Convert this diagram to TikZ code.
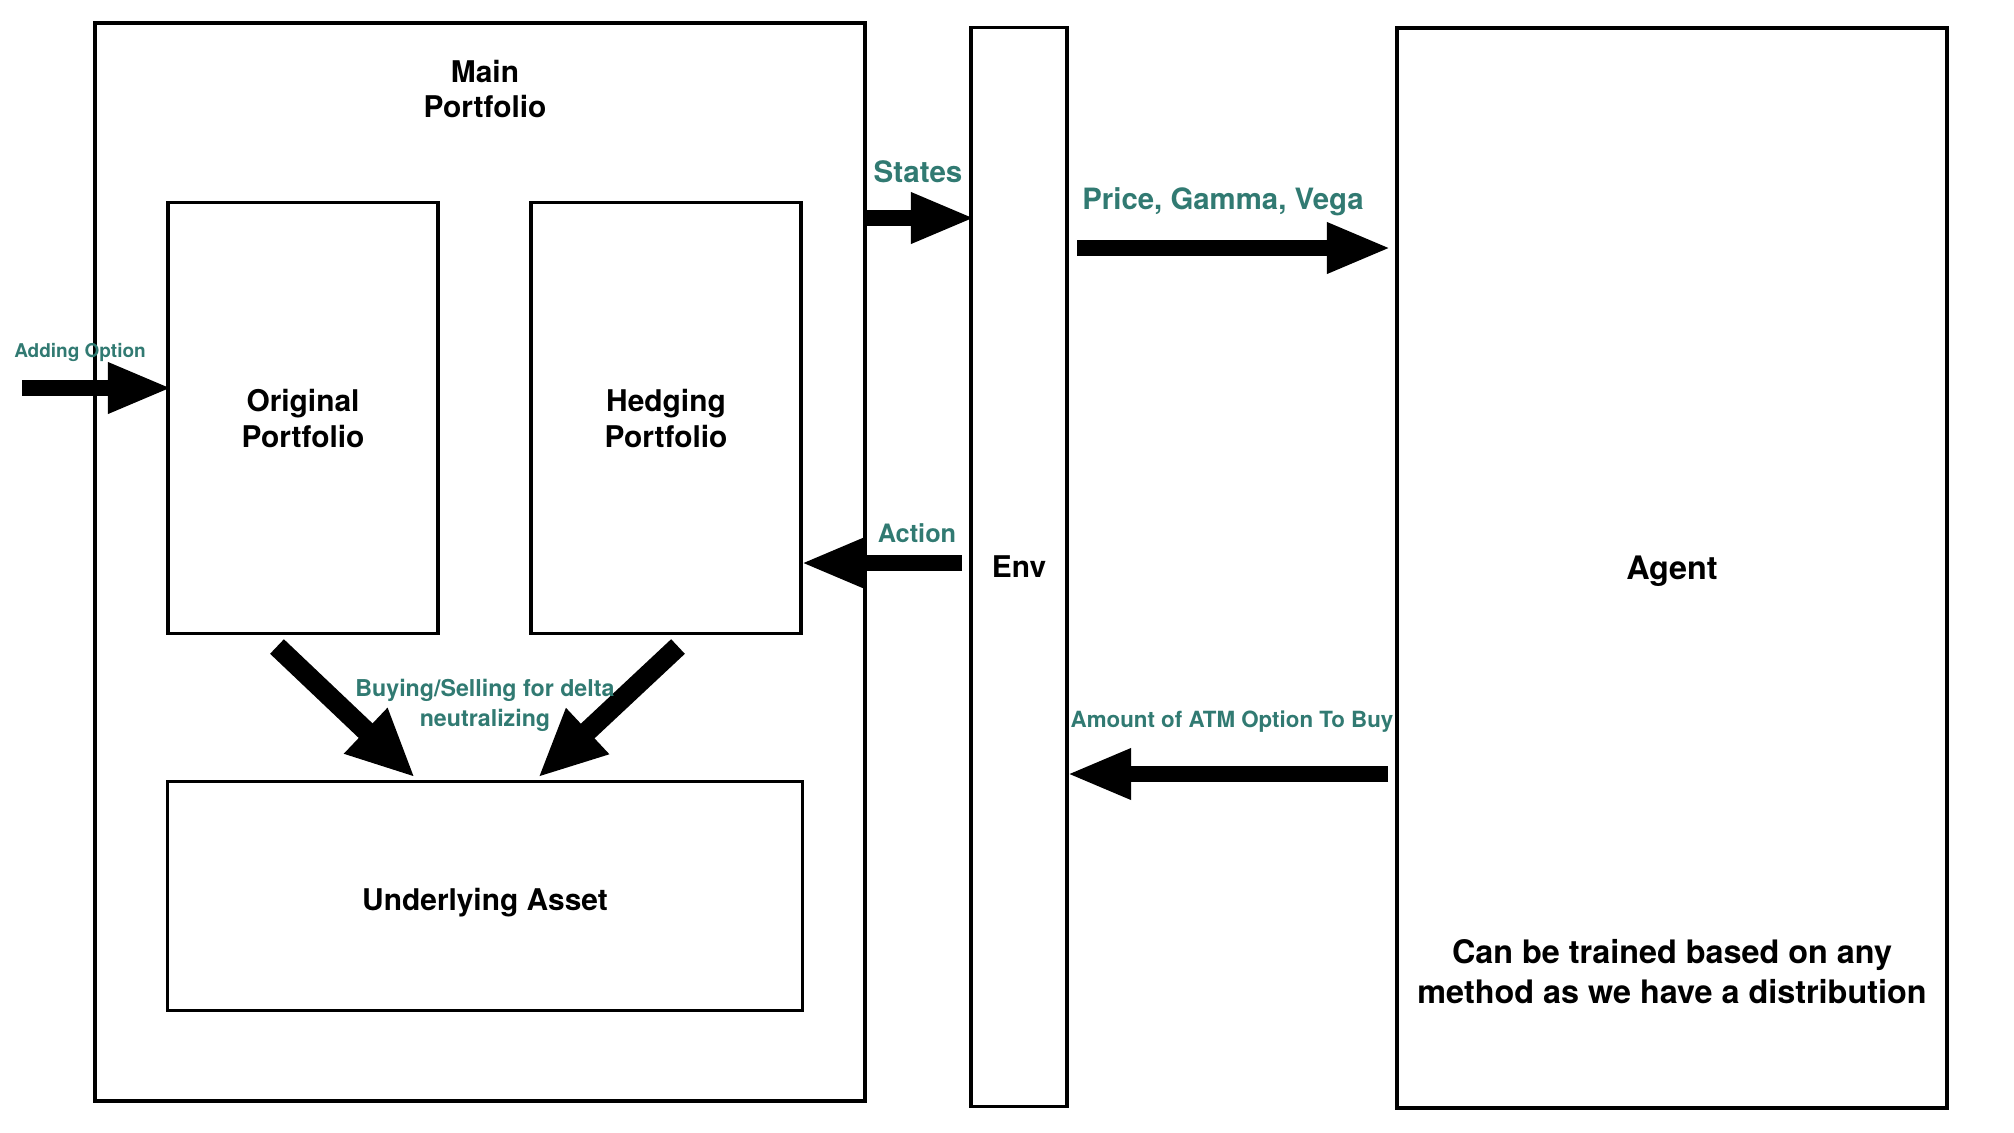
\documentclass[tikz,border=0pt]{standalone}
\usepackage{fontspec}
\setmainfont{TeX Gyre Heros}
\usetikzlibrary{arrows.meta}
\definecolor{labelteal}{RGB}{49,122,114}
\begin{document}
\begin{tikzpicture}[x=0.01cm, y=-0.01cm,
    block/.style ={draw, line width=1.1pt, inner sep=0pt, outer sep=0pt, align=center,
                   text depth=0pt, font=\bfseries\fontsize{8.5}{10.2}\selectfont},
    flow/.style ={line width=4.3pt, -{Triangle[length=6.4mm, width=4.7mm]}},
    bigflow/.style ={line width=5.7pt, -{Triangle[length=6.8mm, width=5.8mm]}},
    flowlabel/.style ={text=labelteal, align=center, inner sep=0pt}]
   \useasboundingbox (0,0) rectangle (2014,1132);
   % boxes
   \node[block, minimum width=770*0.01cm, minimum height=1078*0.01cm] (main) at (480,562) {};
   \node[font=\bfseries\fontsize{8.5}{10.2}\selectfont, align=center] (mainlabel) at (485,89) {Main\\Portfolio};
   \node[block, minimum width=270*0.01cm, minimum height=431*0.01cm] (orig) at (303,418) {Original\\Portfolio};
   \node[block, minimum width=270*0.01cm, minimum height=431*0.01cm] (hedge) at (666,418) {Hedging\\Portfolio};
   \node[block, minimum width=635*0.01cm, minimum height=229*0.01cm] (under) at (485,896) {\raisebox{-2pt}{Underlying Asset}};
   \node[block, minimum width=96*0.01cm, minimum height=1079*0.01cm] (env) at (1019,567) {Env};
   \node[block, minimum width=550*0.01cm, minimum height=1080*0.01cm,
         font=\bfseries\fontsize{9.2}{11}\selectfont] (agent) at (1672,568) {Agent};
   \node[font=\bfseries\fontsize{9.2}{11.4}\selectfont, align=center] (agentnote) at (1672,972) {Can be trained based on any\\method as we have a distribution};
   % arrows
   \coordinate (addin) at (22,388);
   \coordinate (st) at (0,218);
   \coordinate (pg) at (0,248);
   \coordinate (act) at (0,563);
   \coordinate (amt) at (0,774);
   \draw[flow, shorten >=-4*0.01cm] (addin) -- (addin -| orig.west);
   \draw[flow, shorten >=-4*0.01cm] (main.east |- st) -- (env.west |- st);
   \draw[flow, shorten <=10*0.01cm, shorten >=6*0.01cm] (env.east |- pg) -- (agent.west |- pg);
   \draw[flow, shorten <=9*0.01cm] (env.west |- act) -- (hedge.east |- act);
   \draw[flow, shorten <=9*0.01cm] (agent.west |- amt) -- (env.east |- amt);
   \draw[bigflow] ([shift={(-26,13)}]orig.south) -- ([shift={(-70,-4)}]under.north);
   \draw[bigflow] ([shift={(12,13)}]hedge.south) -- ([shift={(53,-4)}]under.north);
   % labels
   \node[flowlabel, font=\bfseries\fontsize{5.4}{6.2}\selectfont] (addlabel) at (80,352) {Adding Option};
   \node[flowlabel, font=\bfseries\fontsize{8.4}{9}\selectfont] (stlabel) at (918,172) {States};
   \node[flowlabel, font=\bfseries\fontsize{8.35}{9}\selectfont] (pglabel) at (1223,202) {Price, Gamma, Vega};
   \node[flowlabel, font=\bfseries\fontsize{7.2}{8}\selectfont] (actlabel) at (917,533) {Action};
   \node[flowlabel, font=\bfseries\fontsize{6.35}{7}\selectfont] (amtlabel) at (1232,722) {Amount of ATM Option To Buy};
   \node[flowlabel, font=\bfseries\fontsize{6.6}{8.5}\selectfont] (buylabel) at (485,705) {Buying/Selling for delta\\neutralizing};
 \end{tikzpicture}
\end{document}
